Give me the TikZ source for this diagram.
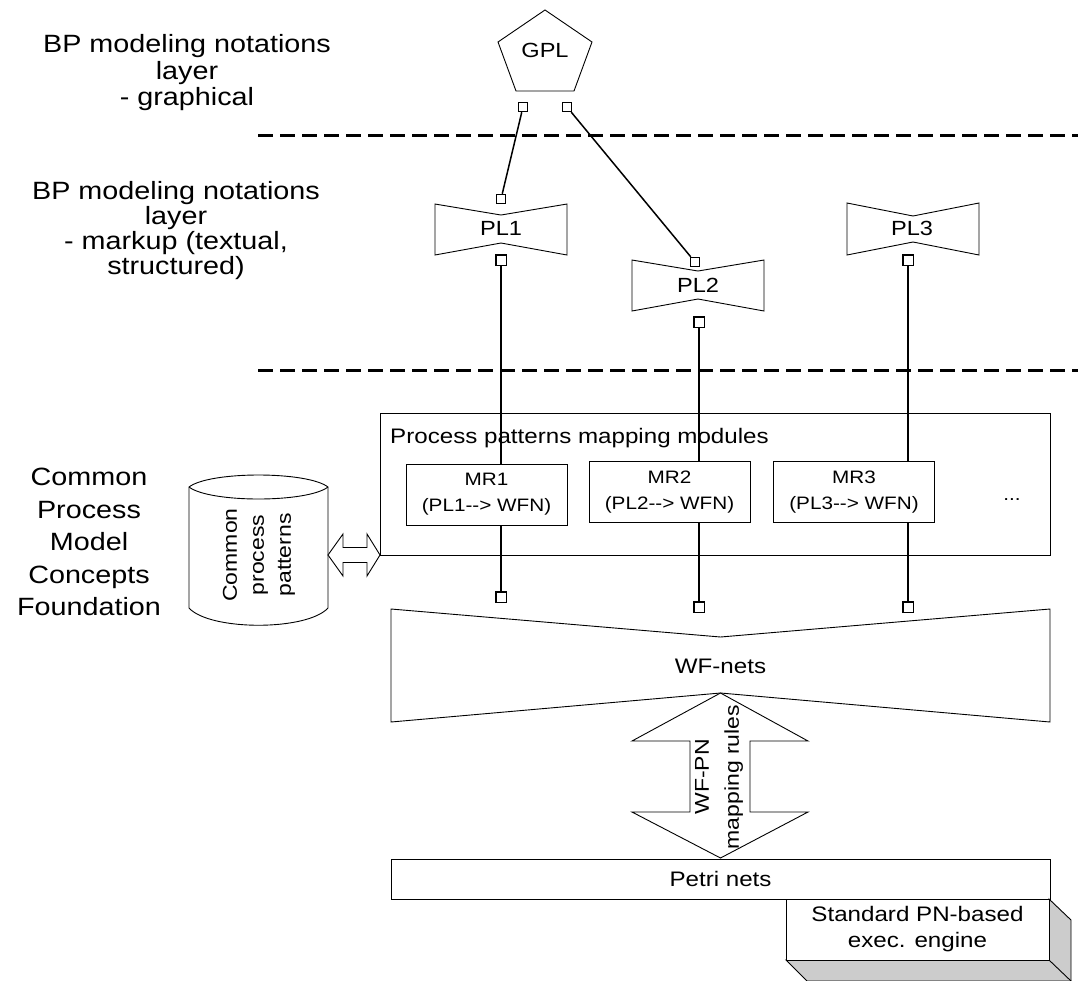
\documentclass[tikz,border=0pt]{standalone}
\usepackage{fontspec}
\setmainfont[FakeStretch=1.15]{Liberation Sans}
\definecolor{shadegray}{RGB}{204,204,204}
\newcommand{\maparrow}{-\kern0pt-\kern0pt>}
\tikzset{
  shp/.style={draw=black, line width=0.9pt, line join=miter},
  lbl/.style={inner sep=0pt, font=\fontsize{20.5}{24}\selectfont},
  sidelbl/.style={align=center, inner sep=0pt},
  sqs/.style={draw, fill=white, minimum size=9.5pt, inner sep=0pt, line width=0.9pt},
  sqb/.style={draw, fill=white, minimum size=10.5pt, inner sep=0pt, line width=1.5pt},
  conn/.style={line width=1.5pt},
  layerline/.style={line width=3pt, dash pattern=on 15pt off 7pt},
  mrbox/.style={draw, fill=white, line width=0.9pt, minimum width=161pt, minimum height=61pt,
    align=center, inner sep=0pt, font=\fontsize{18}{26}\selectfont},
}
\begin{document}
\begin{tikzpicture}[x=1pt,y=-1pt]
\useasboundingbox (0,0) rectangle (1078,980);

% ---- left labels
\node[sidelbl, font=\fontsize{25}{26.5}\selectfont] (lay1) at (187,73)
  {BP modeling notations\\layer\\- graphical};
\node[sidelbl, font=\fontsize{25}{25}\selectfont] (lay2) at (176,231)
  {BP modeling notations\\layer\\- markup (textual,\\structured)};
\node[sidelbl, font=\fontsize{25}{32.5}\selectfont] (lay3) at (89,542)
  {Common\\Process\\Model\\Concepts\\Foundation};

% ---- layer separators
\coordinate (d1a) at (258,135); \coordinate (d1b) at (1078,135);
\coordinate (d2a) at (258,370); \coordinate (d2b) at (1078,370);
\draw[layerline] (d1a) -- (d1b);
\draw[layerline] (d2a) -- (d2b);

% ---- GPL pentagon
\draw[shp] (545,10) -- (592,42) -- (574,91) -- (516,91) -- (498,42) -- cycle;
\node[lbl] (gpl) at (545,50) {GPL};

% ---- PL bow-ties
\draw[shp] (435,204) -- (501,215) -- (567,204) -- (567,255) -- (501,243) -- (435,255) -- cycle;
\node[lbl] (pl1) at (501,228) {PL1};
\draw[shp] (632,260) -- (698,271) -- (764,260) -- (764,311) -- (698,299) -- (632,311) -- cycle;
\node[lbl] (pl2) at (698,285) {PL2};
\draw[shp] (847,203) -- (913,216) -- (979,203) -- (979,255) -- (913,242) -- (847,255) -- cycle;
\node[lbl] (pl3) at (912,228) {PL3};

% ---- outer module box
\node[draw, line width=0.9pt, minimum width=670pt, minimum height=142pt, inner sep=0pt] (ppm) at (715,484) {};
\node[inner sep=0pt, anchor=base west, font=\fontsize{21}{24}\selectfont] (ppmlbl) at (390,443)
  {Process patterns mapping modules};

% ---- WF-nets bow-tie
\draw[shp] (391,609) -- (720.5,637) -- (1050,609) -- (1050,722) -- (720.5,693) -- (391,722) -- cycle;
\node[lbl, font=\fontsize{21}{24}\selectfont] (wf) at (720.5,666) {WF-nets};

% ---- ports
\node[sqs] (g1) at (523,107) {};
\node[sqs] (g2) at (567,107) {};
\node[sqs] (p1t) at (501,199) {};
\node[sqs] (p2t) at (695,262) {};
\node[sqb] (p1b) at (501,260) {};
\node[sqb] (p2b) at (699,322) {};
\node[sqb] (p3b) at (908,260) {};
\node[sqb] (w1) at (501,597) {};
\node[sqb] (w2) at (699,607) {};
\node[sqb] (w3) at (908,607) {};

% ---- connectors
\draw[conn] (g1) -- (p1t);
\draw[conn] (g2) -- (p2t);
\draw[conn] (p1b) -- (w1);
\draw[conn] (p2b) -- (w2);
\draw[conn] (p3b) -- (w3);

% ---- mapping modules
\node[mrbox] (mr1) at (486.5,494.5) {MR1\\(PL1\maparrow{} WFN)};
\node[mrbox] (mr2) at (669.5,492) {MR2\\(PL2\maparrow{} WFN)};
\node[mrbox] (mr3) at (854,492) {MR3\\(PL3\maparrow{} WFN)};
\node[inner sep=0pt, anchor=base, font=\fontsize{18}{24}\selectfont] (more) at (1012,500) {...};

% ---- common process patterns cylinder
\draw[shp, fill=white] (189,487) -- (189,608) .. controls (210,631) and (307,631) .. (328,608)
  -- (328,487) .. controls (307,471) and (210,471) .. (189,487) -- cycle;
\draw[shp] (189,487) .. controls (210,503) and (307,503) .. (328,487);
\node[sidelbl, rotate=90, font=\fontsize{20}{27}\selectfont] (cpp) at (259,555)
  {Common\\process\\patterns};

% ---- horizontal hollow double arrow
\draw[shp, fill=white] (328,555) -- (343,534) -- (343,547.5) -- (367,547.5) -- (367,534) -- (380,555)
  -- (367,576) -- (367,562.5) -- (343,562.5) -- (343,576) -- cycle;

% ---- WF-PN mapping double arrow
\draw[shp, fill=white] (720.5,693) -- (808,741) -- (750,741) -- (750,812) -- (808,812) -- (720.5,858)
  -- (632,812) -- (690,812) -- (690,741) -- (632,741) -- cycle;
\node[sidelbl, rotate=90, font=\fontsize{20}{30}\selectfont] (wfpn) at (719,777)
  {WF-PN\\mapping rules};

% ---- Petri nets
\node[draw, line width=0.9pt, minimum width=659pt, minimum height=40pt, inner sep=0pt,
  font=\fontsize{21}{24}\selectfont] (petri) at (720.5,879) {Petri nets};

% ---- execution engine (extruded box)
\draw[shp, fill=shadegray] (786,960) -- (807,981) -- (1071,981) -- (1071,920) -- (1049,899) -- (1049,960) -- cycle;
\draw[shp] (1049,960) -- (1071,981);
\node[draw, fill=white, line width=0.9pt, minimum width=263pt, minimum height=61pt, inner sep=0pt,
  align=center, font=\fontsize{21}{26}\selectfont] (engine) at (917.5,929.5)
  {Standard PN-based\\exec. engine};
\end{tikzpicture}
\end{document}
